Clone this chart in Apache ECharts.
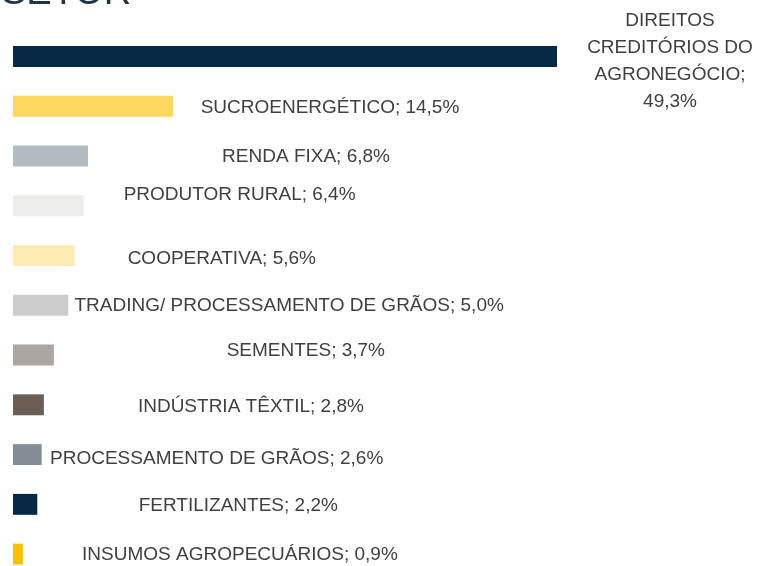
<!DOCTYPE html>
<html>
<head>
<meta charset="utf-8">
<script src="https://cdn.jsdelivr.net/npm/echarts@6/dist/echarts.min.js"></script>
<style>
  html, body { margin: 0; padding: 0; background: #fff; overflow: hidden; }
  #chart { width: 759px; height: 579px; }
</style>
</head>
<body>
<div id="chart"></div>
<script>
// categorias (de cima para baixo)
var categories = [
  'DIREITOS\nCREDITÓRIOS DO\nAGRONEGÓCIO',
  'SUCROENERGÉTICO',
  'RENDA FIXA',
  'PRODUTOR RURAL',
  'COOPERATIVA',
  'TRADING/ PROCESSAMENTO DE GRÃOS',
  'SEMENTES',
  'INDÚSTRIA TÊXTIL',
  'PROCESSAMENTO DE GRÃOS',
  'FERTILIZANTES',
  'INSUMOS AGROPECUÁRIOS'
]
var values = [49.3, 14.5, 6.8, 6.4, 5.6, 5.0, 3.7, 2.8, 2.6, 2.2, 0.9]
var colors = ['#062945', '#ffd75c', '#b3bac2', '#ededeb', '#ffebb3', '#cccccb', '#aba6a1', '#6b5f55', '#848d96', '#062945', '#ffc000']
// deslocamento dos rótulos (centro do texto a partir do fim da barra)
var labelOffsets = [[113, 5], [157, 2], [218, 1], [156, -11], [147, 3], [221, 0], [252, -4], [207, 2], [175, 4], [201, 1], [217, 1]]

var myChart = echarts.init(document.getElementById('chart'))

var seriesData = values.map(function (v, i) {
  return {
    value: v,
    itemStyle: { color: colors[i] },
    label: { offset: labelOffsets[i] }
  }
})

var option = {
  animation: false,
  title: {
    text: 'SETOR',
    left: -4,
    top: -30,
    textStyle: { fontFamily: 'Liberation Sans', fontSize: 38, fontWeight: 'normal', color: '#1f3347' }
  },
  grid: {
    left: 13,
    right: 202,
    top: 31.6,
    bottom: 0
  },
  xAxis: {
    type: 'value',
    min: 0,
    max: 49.3,
    show: false
  },
  yAxis: {
    type: 'category',
    inverse: true,
    data: categories,
    show: false
  },
  series: [
    {
      type: 'bar',
      data: seriesData,
      barCategoryGap: '58%',
      label: {
        show: true,
        position: 'right',
        distance: 0,
        align: 'center',
        verticalAlign: 'middle',
        fontFamily: 'Liberation Sans',
        fontSize: 19,
        lineHeight: 27,
        color: '#404040',
        formatter: function (p) {
          var sep = p.name.indexOf('\n') >= 0 ? ';\n' : '; '
          return p.name + sep + p.value.toFixed(1).replace('.', ',') + '%'
        }
      }
    }
  ]
}
myChart.setOption(option)
</script>
</body>
</html>
